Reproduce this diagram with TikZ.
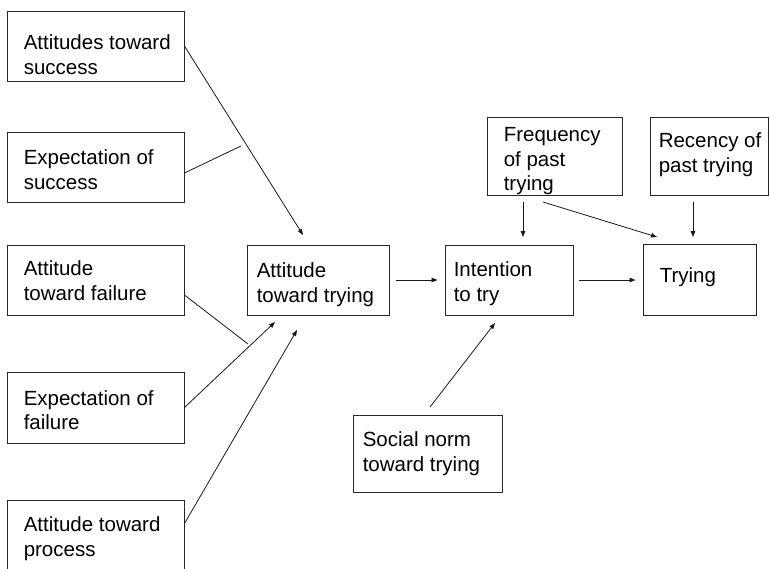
\documentclass[tikz,border=0pt]{standalone}
\usepackage{fontspec}
\setmainfont{Liberation Sans}
\usetikzlibrary{arrows.meta,calc}
\begin{document}
\begin{tikzpicture}[x=1pt,y=-1pt,
  boxst/.style={draw=black!85,line width=0.9pt,inner sep=0pt},
  txt/.style={inner sep=0pt,align=left,anchor=base west,font=\fontsize{20.5}{24.5}\selectfont},
  conn/.style={draw=black!90,line width=0.8pt},
  arr/.style={conn,-{Triangle[length=6pt,width=4.5pt]}}]
\useasboundingbox (0,0) rectangle (770,568);
\clip (0,0) rectangle (770,568);
% boxes
\node[boxst,minimum width=177,minimum height=70] (b1) at (95.5,46) {};
\node[boxst,minimum width=177,minimum height=70] (b2) at (95.5,167) {};
\node[boxst,minimum width=177,minimum height=70] (b3) at (95.5,280) {};
\node[boxst,minimum width=177,minimum height=71] (b4) at (95.5,407.5) {};
\node[boxst,minimum width=177,minimum height=72] (b5) at (95.5,536) {};
\node[boxst,minimum width=142,minimum height=70] (att) at (318,280) {};
\node[boxst,minimum width=128,minimum height=70] (int) at (509,280) {};
\node[boxst,minimum width=113,minimum height=71] (try) at (699.5,279.5) {};
\node[boxst,minimum width=135,minimum height=78] (freq) at (554.5,156) {};
\node[boxst,minimum width=118,minimum height=78] (rec) at (709,156) {};
\node[boxst,minimum width=149,minimum height=77] (soc) at (427.5,453.5) {};
% texts (anchor = baseline of last line)
\node[txt] (t1) at ($(b1.north west)+(17,63.5)$) {Attitudes toward\\success};
\node[txt] (t2) at ($(b2.north west)+(17,57.5)$) {Expectation of\\success};
\node[txt] (t3) at ($(b3.north west)+(17,55.5)$) {Attitude\\toward failure};
\node[txt] (t4) at ($(b4.north west)+(17,58)$) {Expectation of\\failure};
\node[txt] (t5) at ($(b5.north west)+(17,56.5)$) {Attitude toward\\process};
\node[txt] (tatt) at ($(att.north west)+(10,57.5)$) {Attitude\\toward trying};
\node[txt] (tint) at ($(int.north west)+(9,56.5)$) {Intention\\to try};
\node[txt] (ttry) at ($(try.north west)+(17,39)$) {Trying};
\node[txt] (tfreq) at ($(freq.north west)+(17,74)$) {Frequency\\of past\\trying};
\node[txt] (trec) at ($(rec.north west)+(9,55.5)$) {Recency of\\past trying};
\node[txt] (tsoc) at ($(soc.north west)+(10,56.5)$) {Social norm\\toward trying};
% free ends
\coordinate (a1) at (303,235);
\coordinate (j1) at (241,146);
\coordinate (j2) at (248,344);
\coordinate (a4) at (275,322);
\coordinate (a5) at (297,330);
\coordinate (s7) at (430,407);
\coordinate (a7) at (495,323);
\coordinate (s8) at (523,202);
\coordinate (a8) at (523,237);
\coordinate (s9) at (543,202);
\coordinate (a9) at (657,237);
\coordinate (s10) at (693,202);
\coordinate (a10) at (693,237);
% connectors
\draw[arr] (b1.east) -- (a1);
\draw[conn] ($(b2.east)+(0,6)$) -- (j1);
\draw[conn] ($(b3.east)+(0,15)$) -- (j2);
\draw[arr] (b4.east) -- (a4);
\draw[arr] ($(b5.north east)+(0,24)$) -- (a5);
\draw[arr,shorten <=7pt,shorten >=7pt] (att.east) -- (int.west);
\draw[arr] (s7) -- (a7);
\draw[arr] (s8) -- (a8);
\draw[arr] (s9) -- (a9);
\draw[arr] (s10) -- (a10);
\draw[arr,shorten <=6pt,shorten >=7pt] (int.east) -- (try.west |- int.east);
\end{tikzpicture}
\end{document}
